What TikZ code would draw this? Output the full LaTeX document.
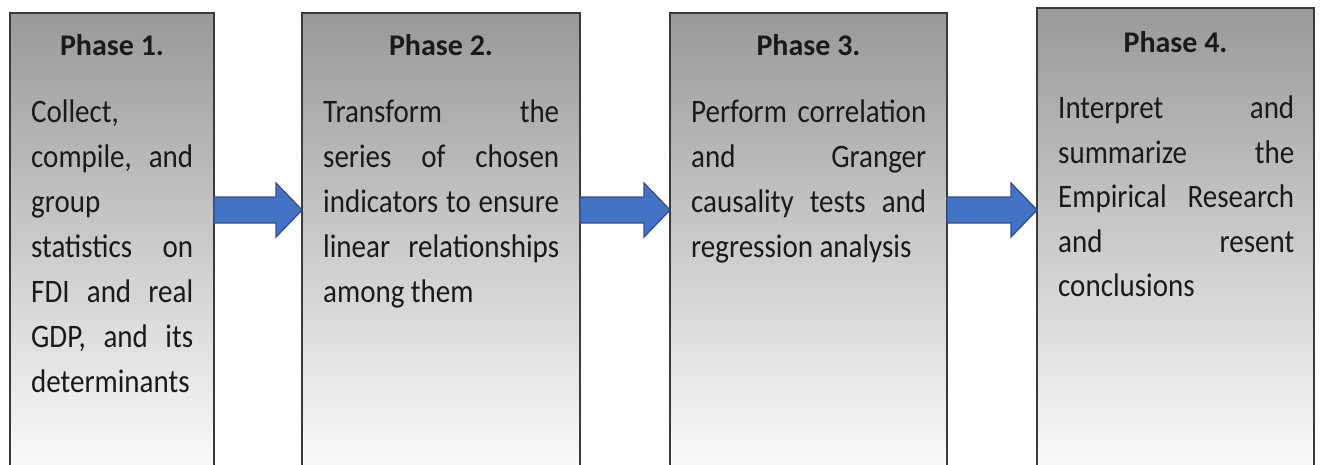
\documentclass[tikz,border=0pt]{standalone}
\usepackage{fontspec}
\setmainfont{Carlito}
\usetikzlibrary{calc}
\definecolor{arrowfill}{HTML}{4472C4}
\definecolor{arrowline}{HTML}{2F528F}
\definecolor{boxtop}{HTML}{999999}
\definecolor{boxline}{HTML}{3A3A3A}
\definecolor{txt}{HTML}{1A1A1A}
\tikzset{
  phasebox/.style={draw=boxline, line width=1.3pt, top color=boxtop, bottom color=white,
    rectangle, anchor=north west, inner sep=0pt, outer sep=0pt},
  heading/.style={anchor=base, inner sep=0pt, font=\fontsize{30}{36}\selectfont\bfseries, text=txt},
  bodyline/.style={anchor=base west, inner sep=0pt, font=\fontsize{29}{35}\selectfont, text=txt},
  blockarrow/.style={fill=arrowfill, draw=arrowline, line width=1.3pt, line join=miter},
}
\newcommand\phaseline[4]{\node[bodyline] (#1) at ($(#2.north west)+(21,#3)$) {\scalebox{1}[1.13]{#4}};}
\newcommand\blockarr[2]{%
  \draw[blockarrow] ($(#1.east |- ay)+(0,-13)$) -- ($(#2.west |- ay)+(-26,-13)$)
    -- ($(#2.west |- ay)+(-26,-27)$) -- (#2.west |- ay)
    -- ($(#2.west |- ay)+(-26,27)$) -- ($(#2.west |- ay)+(-26,13)$)
    -- ($(#1.east |- ay)+(0,13)$) -- cycle;}
\begin{document}
\begin{tikzpicture}[x=1pt,y=-1pt]
\useasboundingbox (0,0) rectangle (1320,464);
% boxes
\node[phasebox, minimum width=204pt, minimum height=475pt] (b1) at (10,13) {};
\node[phasebox, minimum width=278pt, minimum height=475pt] (b2) at (302,13) {};
\node[phasebox, minimum width=277pt, minimum height=475pt] (b3) at (670,13) {};
\node[phasebox, minimum width=277pt, minimum height=480pt] (b4) at (1037,8) {};
% headings
\node[heading] (h1) at ($(b1.north)+(0,42)$) {Phase 1.};
\node[heading] (h2) at ($(b2.north)+(0,42)$) {Phase 2.};
\node[heading] (h3) at ($(b3.north)+(0,42)$) {Phase 3.};
\node[heading] (h4) at ($(b4.north)+(0,44)$) {Phase 4.};
% box 1
\phaseline{t11}{b1}{109.5}{Collect,}
\phaseline{t12}{b1}{154.5}{\hbox to 162pt{compile,\hfill and}}
\phaseline{t13}{b1}{199.5}{group}
\phaseline{t14}{b1}{244.5}{\hbox to 162pt{statistics\hfill on}}
\phaseline{t15}{b1}{289.5}{\hbox to 162pt{FDI\hfill and\hfill real}}
\phaseline{t16}{b1}{334.5}{\hbox to 162pt{GDP,\hfill and\hfill its}}
\phaseline{t17}{b1}{379.5}{determinants}
% box 2
\phaseline{t21}{b2}{109.5}{\hbox to 236pt{Transform\hfill the}}
\phaseline{t22}{b2}{154.5}{\hbox to 236pt{series\hfill of\hfill chosen}}
\phaseline{t23}{b2}{199.5}{\hbox to 236pt{indicators\hfill to\hfill ensure}}
\phaseline{t24}{b2}{244.5}{\hbox to 236pt{linear\hfill relationships}}
\phaseline{t25}{b2}{289.5}{among them}
% box 3
\phaseline{t31}{b3}{109.5}{\hbox to 235pt{Perform\hfill correlation}}
\phaseline{t32}{b3}{154.5}{\hbox to 235pt{and\hfill Granger}}
\phaseline{t33}{b3}{199.5}{\hbox to 235pt{causality\hfill tests\hfill and}}
\phaseline{t34}{b3}{244.5}{regression analysis}
% box 4
\phaseline{t41}{b4}{110}{\hbox to 236pt{Interpret\hfill and}}
\phaseline{t42}{b4}{155}{\hbox to 236pt{summarize\hfill the}}
\phaseline{t43}{b4}{199.5}{\hbox to 236pt{Empirical\hfill Research}}
\phaseline{t44}{b4}{244}{\hbox to 236pt{and\hfill resent}}
\phaseline{t45}{b4}{288.5}{conclusions}
% arrows
\coordinate (ay) at (0,210);
\blockarr{b1}{b2}
\blockarr{b2}{b3}
\blockarr{b3}{b4}
\end{tikzpicture}
\end{document}
